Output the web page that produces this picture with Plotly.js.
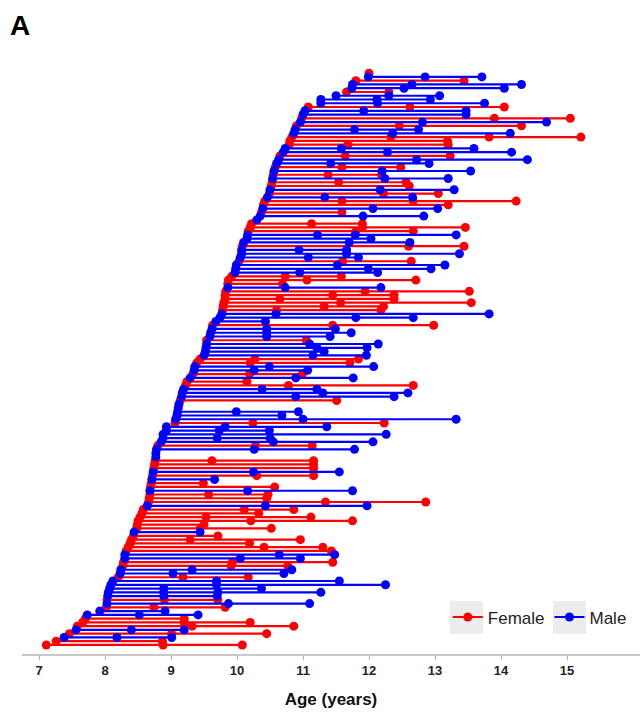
<!DOCTYPE html>
<html>
<head>
<meta charset="utf-8">
<script src="https://cdn.plot.ly/plotly-3.0.1.min.js"></script>
<style>html,body{margin:0;padding:0;background:#fff;}#chart{width:644px;height:722px;}</style>
</head>
<body>
<div id="chart"></div>
<script>
// One row per child, ordered by age at first visit (bottom to top)
const sex = [
 "F","F","M","F","M","F","F","F","M","M",
 "F","M","F","M","M","M","M","M","F","M",
 "M","F","F","M","M","F","F","F","F","F",
 "M","F","F","F","F","F","F","M","F","F",
 "F","M","F","F","M","F","M","F","F","F",
 "M","M","M","F","M","M","M","M","M","F",
 "M","M","M","M","M","F","M","M","M","F",
 "F","M","F","M","M","F","F","M","M","M",
 "M","F","M","M","M","F","M","M","M","F",
 "F","F","F","F","F","M","F","F","F","M",
 "M","M","F","M","M","M","F","M","M","M",
 "F","F","F","M","M","F","M","F","F","M",
 "F","M","F","F","M","F","M","F","M","M",
 "F","M","M","F","F","F","M","M","F","M",
 "F","M","M","F","M","M","M","F","M","M",
 "F","M","F"
];
const visit1 = [
 7.11,7.26,7.38,7.46,7.56,7.58,7.66,7.70,7.73,7.92,
 8.02,8.03,8.03,8.04,8.05,8.07,8.09,8.12,8.20,8.23,
 8.24,8.27,8.28,8.30,8.30,8.32,8.35,8.38,8.40,8.43,
 8.44,8.48,8.49,8.50,8.53,8.56,8.58,8.64,8.66,8.67,
 8.68,8.68,8.69,8.70,8.71,8.72,8.73,8.74,8.75,8.76,
 8.77,8.77,8.78,8.80,8.85,8.88,8.88,8.93,8.93,9.06,
 9.07,9.09,9.10,9.11,9.12,9.14,9.16,9.17,9.19,9.22,
 9.24,9.29,9.33,9.35,9.36,9.39,9.44,9.50,9.52,9.53,
 9.54,9.54,9.59,9.60,9.62,9.63,9.68,9.74,9.77,9.78,
 9.79,9.80,9.82,9.82,9.83,9.86,9.86,9.87,9.92,9.97,
 9.98,9.99,10.03,10.05,10.07,10.07,10.08,10.10,10.15,10.16,
 10.17,10.20,10.22,10.30,10.35,10.37,10.39,10.40,10.42,10.46,
 10.49,10.50,10.52,10.53,10.54,10.55,10.56,10.58,10.60,10.63,
 10.65,10.70,10.73,10.79,10.80,10.83,10.86,10.88,10.90,10.96,
 10.98,11.00,11.03,11.08,11.27,11.27,11.50,11.66,11.74,11.75,
 11.80,11.99,12.00
];
const visit2 = [
 8.88,8.87,8.18,9.01,8.40,9.32,9.20,9.20,8.52,8.91,
 8.74,9.87,8.90,8.89,8.89,8.89,9.69,9.69,9.18,9.03,
 9.32,9.91,9.93,10.05,10.64,11.43,10.41,10.19,9.29,9.71,
 9.44,9.44,9.50,10.21,9.53,10.33,10.11,10.43,11.34,10.45,
 9.57,10.16,10.57,9.49,9.66,10.30,10.25,11.16,11.16,9.62,
 null,null,10.26,10.28,10.55,9.70,12.26,9.73,9.82,10.24,
 11.00,10.68,9.99,null,null,11.51,10.89,11.30,10.38,10.78,
 10.15,10.89,10.19,10.26,10.49,10.20,10.27,11.15,11.32,11.21,
 11.10,11.05,10.45,10.45,10.45,11.45,10.43,11.80,10.59,10.60,
 11.32,11.57,10.65,11.45,11.94,10.73,10.69,11.06,10.73,10.95,
 11.99,11.52,11.60,11.08,11.66,10.94,12.60,11.70,12.03,11.22,
 11.80,11.90,11.13,null,11.91,11.59,12.06,13.20,11.59,11.33,
 12.22,12.17,12.61,11.54,12.24,11.38,12.20,11.59,11.42,12.72,
 11.64,12.28,11.58,11.68,13.19,12.33,12.36,11.78,12.46,12.81,
 13.90,13.47,11.92,12.62,12.13,12.12,12.30,12.30,12.53,12.65,
 13.44,12.85,null
];
const visit3 = [
 10.08,null,9.01,10.45,9.20,10.86,10.20,null,9.41,null,
 9.82,11.10,9.71,9.70,9.71,10.37,12.25,11.55,10.17,10.71,
 10.83,10.77,11.45,10.96,11.48,null,11.30,null,10.96,null,
 null,10.52,null,11.75,11.12,null,10.86,11.97,12.86,null,
 10.47,11.75,null,null,null,11.16,11.55,null,null,11.16,
 null,null,11.78,11.14,12.06,10.50,null,10.49,11.36,12.23,
 13.32,null,10.93,null,null,null,12.38,12.59,11.21,12.67,
 null,11.76,10.99,11.07,12.07,11.71,11.84,11.96,null,11.97,
 12.14,null,11.41,11.73,11.49,12.98,null,12.67,13.82,12.18,
 12.22,13.55,12.38,12.38,13.52,12.18,null,12.71,11.58,12.13,
 12.94,13.15,12.64,11.84,13.37,11.66,13.44,12.62,null,11.79,
 12.67,13.46,11.90,null,12.83,null,13.04,null,12.67,12.66,
 13.05,13.29,null,12.56,13.20,12.19,13.54,12.48,12.91,14.40,
 13.23,14.16,13.59,13.20,null,13.82,14.14,12.75,14.31,14.69,
 15.05,null,13.47,14.05,13.75,12.93,13.07,null,14.05,14.31,
 null,13.71,null
];
const visit4 = [
 null,null,null,null,null,null,null,null,null,null,
 null,null,null,null,11.27,null,null,null,null,null,
 null,null,null,null,null,null,null,null,null,null,
 null,null,null,null,null,null,null,null,null,null,
 null,null,null,null,null,null,null,null,null,null,
 null,null,null,null,null,null,null,null,null,null,
 null,null,null,null,null,null,null,null,null,null,
 null,null,null,null,null,null,null,null,null,null,
 null,null,null,null,null,null,null,null,null,null,
 null,null,null,null,null,null,null,null,null,null,
 null,null,null,null,null,null,null,null,null,13.32,
 null,null,null,null,null,null,null,null,14.23,null,
 null,null,null,null,null,null,null,null,null,null,
 null,null,null,null,null,15.21,null,null,null,null,
 null,null,null,null,null,null,null,null,null,null,
 null,null,null
];
const groups = ["F","M"];
const groupNames = {F:"Female", M:"Male"};
const groupColors = {F:"#ff0000", M:"#0000ff"};
const xTicks = [7,8,9,10,11,12,13,14,15];

const xs = {F:[], M:[]}, ys = {F:[], M:[]};
for (let i = 0; i < sex.length; i++) {
  const v = [visit1[i], visit2[i], visit3[i], visit4[i]].filter(a => a !== null);
  v.forEach(a => { xs[sex[i]].push(a); ys[sex[i]].push(i); });
  xs[sex[i]].push(null); ys[sex[i]].push(null);
}
const FONT = "Liberation Sans, Arial, Helvetica, sans-serif";
const traces = groups.map(g => ({
  type: "scatter", mode: "lines+markers", name: groupNames[g],
  x: xs[g], y: ys[g], connectgaps: false,
  line: {color: groupColors[g], width: 2.2},
  marker: {color: groupColors[g], size: 9},
  hoverinfo: "skip"
}));

// grey key backgrounds behind the legend symbols (ggplot style)
const keyBox = (x0, x1) => ({type: "rect", xref: "paper", yref: "paper", layer: "below",
  x0: x0, x1: x1, y0: 0.0337, y1: 0.0892, fillcolor: "#ececec", line: {width: 0}});

const layout = {
  width: 644, height: 722,
  margin: {l: 22, r: 4, t: 60, b: 68},
  paper_bgcolor: "#fff", plot_bgcolor: "#fff",
  font: {family: FONT, color: "#000"},
  showlegend: true,
  legend: {orientation: "h", x: 0.689, y: 0.0615, xanchor: "left", yanchor: "middle",
           font: {size: 17, family: FONT, color: "#222"}, bgcolor: "rgba(0,0,0,0)",
           itemwidth: 30, tracegroupgap: 0},
  shapes: [keyBox(0.6926, 0.7460), keyBox(0.8592, 0.9126)],
  xaxis: {range: [6.742, 16.106], tickvals: xTicks, ticktext: xTicks.map(String),
          ticks: "outside", ticklen: 4, tickwidth: 1, tickcolor: "#b0b0b0",
          showline: true, linecolor: "#c8c8c8", linewidth: 1.5,
          showgrid: false, zeroline: false,
          tickfont: {size: 13, family: FONT, color: "#222", weight: "bold"},
          title: {text: "Age (years)", font: {size: 17, family: FONT, color: "#111", weight: "bold"}, standoff: 16}},
  yaxis: {visible: false, range: [-2.4, 155.5], fixedrange: true},
  annotations: [{text: "A", xref: "paper", yref: "paper", x: -0.022, y: 1.088,
                 xanchor: "left", yanchor: "top", showarrow: false,
                 font: {size: 28, family: FONT, color: "#000", weight: "bold"}}]
};
Plotly.newPlot("chart", traces, layout, {displayModeBar: false, staticPlot: true});
</script>
</body>
</html>
